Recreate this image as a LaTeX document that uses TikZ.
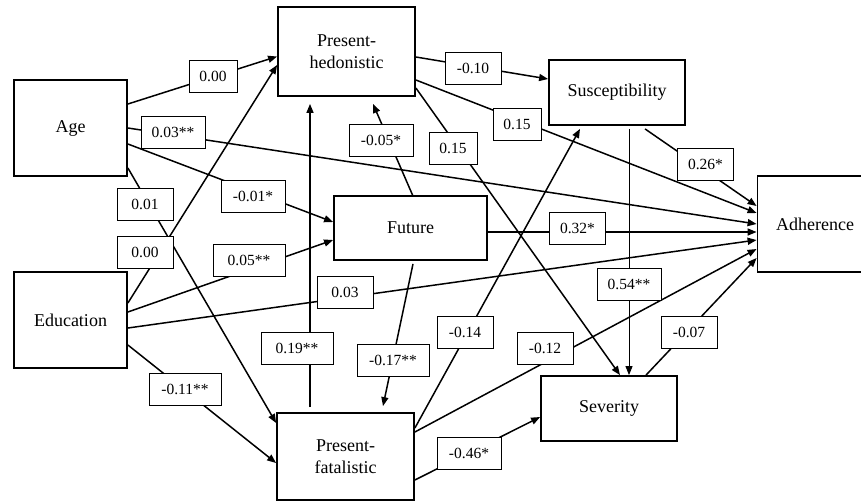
\documentclass[tikz,border=0pt]{standalone}
\usepackage{fontspec}
\setmainfont{Liberation Serif}
\usetikzlibrary{arrows.meta}
\begin{document}
\begin{tikzpicture}[x=1pt,y=-1pt,
  box/.style={draw, line width=1.8pt, fill=white, inner sep=0pt, align=center,
    font=\fontsize{18}{22}\selectfont},
  lab/.style={draw, line width=0.8pt, fill=white, inner sep=0pt, minimum height=32pt,
    font=\fontsize{15.5}{18}\selectfont},
  arr/.style={line width=1.5pt, -{Triangle[length=9pt,width=7pt]}},
  thinarr/.style={line width=0.9pt, -{Triangle[length=9pt,width=7pt]}}]
\useasboundingbox (0,0) rectangle (861,501);
% main nodes
\node[box, minimum width=113pt, minimum height=96pt] (Age) at (70.5,128) {Age};
\node[box, minimum width=113pt, minimum height=96pt] (Edu) at (70.5,320) {Education};
\node[box, minimum width=137pt, minimum height=89pt] (PH) at (346.5,51.5) {Present-\\hedonistic};
\node[box, minimum width=153pt, minimum height=64pt] (Fut) at (410.5,228) {Future};
\node[box, minimum width=137pt, minimum height=87pt] (PF) at (345.5,456.5) {Present-\\fatalistic};
\node[box, minimum width=136pt, minimum height=65pt] (Sus) at (617,92.5) {Susceptibility};
\node[box, minimum width=136pt, minimum height=65pt] (Sev) at (609,408.5) {Severity};
\node[box, minimum width=115pt, minimum height=96pt] (Adh) at (815,224) {Adherence};
% edges
\draw[arr] ([yshift=24pt]Age.east) -- ([yshift=-5pt]PH.west);
\draw[arr] (Age.east) -- (Adh.west);
\draw[arr] ([yshift=-16pt]Age.east) -- ([yshift=6pt]Fut.west);
\draw[arr] ([yshift=-40pt]Age.east) -- ([yshift=33.5pt]PF.west);
\draw[arr] ([yshift=17pt]Edu.east) -- ([yshift=-13.5pt]PH.west);
\draw[arr] ([yshift=8pt]Edu.east) -- ([yshift=-12pt]Fut.west);
\draw[arr] ([yshift=-8pt]Edu.east) -- ([yshift=-16pt]Adh.west);
\draw[arr] ([yshift=-25pt]Edu.east) -- ([yshift=-6.5pt]PF.west);
\draw[arr] ([xshift=-35.5pt,yshift=5pt]PF.north) -- ([xshift=-36.5pt,yshift=-7pt]PH.south);
\draw[arr] ([xshift=2.5pt,yshift=-1pt]Fut.north) -- ([xshift=26.5pt,yshift=-7pt]PH.south);
\draw[arr] ([xshift=2.5pt,yshift=-3pt]Fut.south) -- ([xshift=37.5pt,yshift=6pt]PF.north);
\draw[arr] ([yshift=-5.5pt]PH.east) -- ([yshift=13.5pt]Sus.west);
\draw[arr] ([yshift=-28.5pt]PH.east) -- ([yshift=11pt]Adh.west);
\draw[arr] ([yshift=-36.5pt]PH.east) -- ([xshift=11pt]Sev.north);
\draw[arr] ([yshift=28.5pt]PF.east) -- ([xshift=-37pt,yshift=-3pt]Sus.south);
\draw[arr] ([yshift=24.5pt]PF.east) -- ([yshift=-25pt]Adh.west);
\draw[arr] ([yshift=-23.5pt]PF.east) -- ([yshift=-8.5pt]Sev.west);
\draw[thinarr] ([xshift=12pt,yshift=-3pt]Sus.south) -- ([xshift=20pt]Sev.north);
\draw[arr] ([xshift=28pt,yshift=-3pt]Sus.south) -- ([yshift=18pt]Adh.west);
\draw[arr] ([xshift=37pt]Sev.north) -- ([yshift=-34pt]Adh.west);
\draw[arr] ([yshift=-4pt]Fut.east) -- ([yshift=-8pt]Adh.west);
% labels
\node[lab, minimum width=48pt] (l1) at (213,76) {0.00};
\node[lab, minimum width=64pt] (l2) at (173,132.5) {0.03**};
\node[lab, minimum width=64pt] (l3) at (253,196) {-0.01*};
\node[lab, minimum width=56pt] (l4) at (145,204) {0.01};
\node[lab, minimum width=56pt] (l5) at (145,252.5) {0.00};
\node[lab, minimum width=72pt] (l6) at (249,260.5) {0.05**};
\node[lab, minimum width=56pt] (l7) at (345,292.5) {0.03};
\node[lab, minimum width=72pt] (l8) at (185,389) {-0.11**};
\node[lab, minimum width=72pt] (l9) at (297,348) {0.19**};
\node[lab, minimum width=64pt] (l10) at (381,140) {-0.05*};
\node[lab, minimum width=72pt] (l11) at (393,360) {-0.17**};
\node[lab, minimum width=56pt] (l12) at (473,68) {-0.10};
\node[lab, minimum width=48pt] (l13) at (517,124) {0.15};
\node[lab, minimum width=48pt] (l14) at (453,148) {0.15};
\node[lab, minimum width=56pt] (l15) at (465,332.5) {-0.14};
\node[lab, minimum width=56pt] (l16) at (545,348.5) {-0.12};
\node[lab, minimum width=64pt] (l17) at (469,453) {-0.46*};
\node[lab, minimum width=64pt] (l18) at (629,284.5) {0.54**};
\node[lab, minimum width=56pt] (l19) at (705.5,164) {0.26*};
\node[lab, minimum width=56pt] (l20) at (577.5,228) {0.32*};
\node[lab, minimum width=56pt] (l21) at (689,332.5) {-0.07};
\end{tikzpicture}
\end{document}
